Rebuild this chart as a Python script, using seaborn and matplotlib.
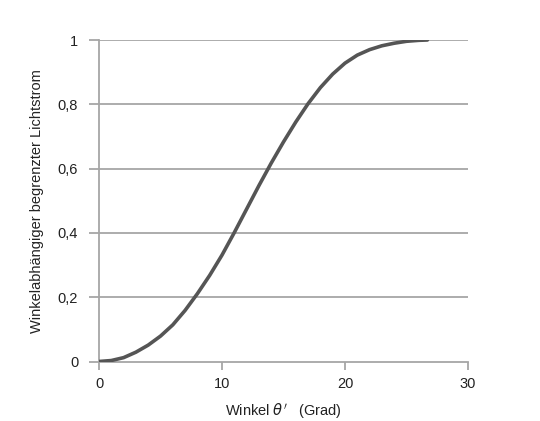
import matplotlib
matplotlib.use("Agg")
import matplotlib.pyplot as plt
import seaborn as sns
import pandas as pd

# data
winkel = [0, 1, 2, 3, 4, 5, 6, 7, 8, 9, 10, 11, 12, 13, 14, 15, 16, 17, 18, 19, 20, 21, 22, 23, 24, 25, 26, 26.7]
lichtstrom = [0.0, 0.003, 0.012, 0.029, 0.051, 0.079, 0.114, 0.159, 0.211, 0.268, 0.331, 0.401, 0.474, 0.547,
              0.617, 0.683, 0.745, 0.802, 0.852, 0.894, 0.928, 0.953, 0.970, 0.982, 0.990, 0.996, 0.999, 1.0]
x_ticks = [0, 10, 20, 30]
y_ticks = [0, 0.2, 0.4, 0.6, 0.8, 1.0]
y_ticklabels = ["0", "0,2", "0,4", "0,6", "0,8", "1"]

sns.set_style("white")
plt.rcParams['font.family'] = ['Liberation Sans', 'DejaVu Sans']
plt.rcParams['mathtext.fontset'] = 'dejavusans'

df = pd.DataFrame({"x": winkel, "y": lichtstrom})

fig = plt.figure(figsize=(5.4, 4.21), dpi=100)
ax = fig.add_axes([99/540, 1-361.5/421, (468-99)/540, (361.5-40)/421])

grid_c = "#a6a6a6"
for yv in y_ticks[1:]:
    ax.axhline(yv, color=grid_c, lw=1.3, zorder=1)

sns.lineplot(data=df, x="x", y="y", ax=ax, color="#555555", lw=2.6, zorder=3)
ax.lines[-1].set_solid_joinstyle("round")

ax.set_xlim(0, 30)
ax.set_ylim(0, 1)
ax.set_xticks(x_ticks)
ax.set_xticklabels([str(t) for t in x_ticks])
ax.set_yticks(y_ticks)
ax.set_yticklabels(y_ticklabels)

for s in ["top", "right"]:
    ax.spines[s].set_visible(False)
for s in ["left", "bottom"]:
    ax.spines[s].set_color(grid_c)
    ax.spines[s].set_linewidth(1.3)

ax.tick_params(axis="y", length=7, width=1.3, color=grid_c, pad=8, labelsize=10.5, labelcolor="#222222")
ax.tick_params(axis="x", length=6, width=1.3, color=grid_c, pad=5, labelsize=10.5, labelcolor="#222222")
ax.tick_params(left=True, bottom=True, direction="out")

ax.set_xlabel("Winkel $\\theta'$   (Grad)", fontsize=10.5, color="#222222", labelpad=8)
ax.set_ylabel("Winkelabhängiger begrenzter Lichtstrom", fontsize=10.5, color="#222222", labelpad=10)

fig.savefig("out.png", dpi=100)
